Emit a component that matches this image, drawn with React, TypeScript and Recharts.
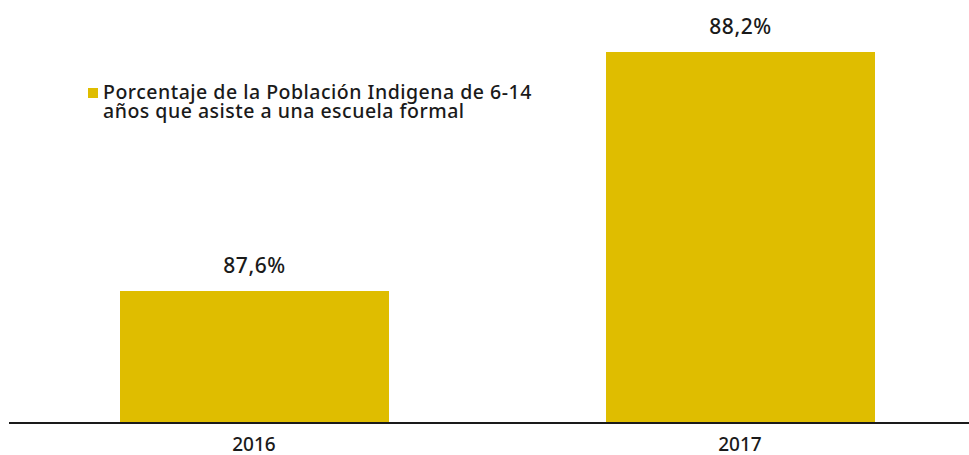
import React from 'react';
import { BarChart, Bar, XAxis, YAxis, LabelList } from 'recharts';

const years = ['2016', '2017'];
const values = [87.6, 88.2];
const seriesName = 'Porcentaje de la Población Indigena de 6-14 años que asiste a una escuela formal';

const data = years.map((y, i) => ({ year: y, value: values[i] }));

const BAR_COLOR = '#DFBD00';
const TEXT_COLOR = '#1a1a1a';
const FONT = '"Noto Sans", sans-serif';

const fmt = (v: any) => `${Number(v).toFixed(1).replace('.', ',')}%`;

export default function App() {
  return (
    <div style={{ position: 'absolute', left: 0, top: 0, width: 969, height: 455, background: '#fff' }}>
      <BarChart width={969} height={455} data={data} margin={{ top: 12, right: 0, bottom: 0, left: 9 }}>
        <XAxis
          dataKey="year"
          height={32}
          padding={{ left: 2, right: -14 }}
          axisLine={{ stroke: TEXT_COLOR, strokeWidth: 2 }}
          tickLine={false}
          tickMargin={9}
          tick={{ fontSize: 19, fill: TEXT_COLOR, fontFamily: FONT, fontWeight: 500 }}
          interval={0}
        />
        <YAxis hide type="number" domain={[87.2686, 88.3004]} allowDataOverflow />
        <Bar dataKey="value" name={seriesName} fill={BAR_COLOR} barSize={269} isAnimationActive={false}>
          <LabelList
            dataKey="value"
            position="top"
            offset={17.5}
            formatter={fmt}
            style={{ fontSize: 21, letterSpacing: 0.6, fill: TEXT_COLOR, fontFamily: FONT, fontWeight: 500 }}
          />
        </Bar>
      </BarChart>
      <div
        style={{
          position: 'absolute',
          left: 88,
          top: 83,
          paddingLeft: 15,
          width: 445,
          fontFamily: FONT,
          fontSize: 19.5,
          letterSpacing: 0.5,
          fontWeight: 500,
          lineHeight: '18.5px',
          color: TEXT_COLOR,
        }}
      >
        <span style={{ position: 'absolute', left: 0, top: 5, width: 10, height: 10, background: BAR_COLOR }} />
        {seriesName}
      </div>
    </div>
  );
}
